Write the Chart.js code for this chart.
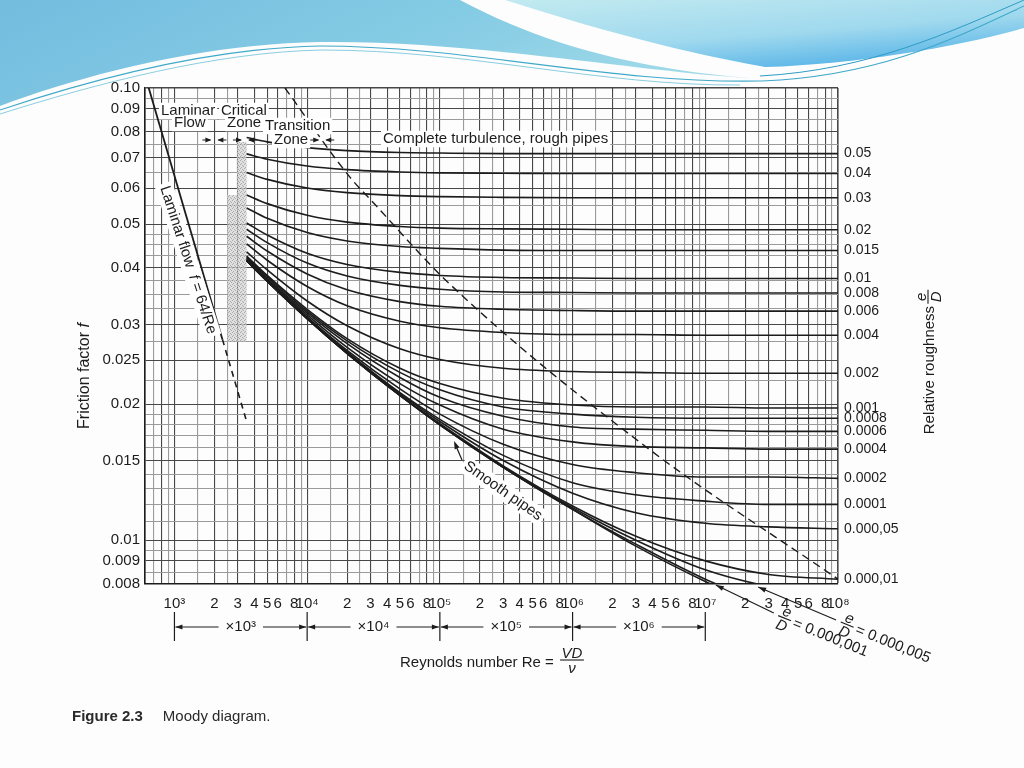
<!DOCTYPE html>
<html>
<head>
<meta charset="utf-8">
<title>Moody diagram</title>
<script src="https://cdn.jsdelivr.net/npm/chart.js@4.4.1/dist/chart.umd.min.js"></script>
<style>
  html, body { margin: 0; padding: 0; background: #fdfdfd; }
  #wrap { position: relative; width: 1024px; height: 768px; overflow: hidden; }
  #bg { position: absolute; left: 0; top: 0; }
  #moody { position: absolute; left: 0; top: 0; }
  #caption { position: absolute; left: 72px; top: 707px; font: 15px 'Liberation Sans', Arial, sans-serif; color: #2a2a2a; }
  #caption b { margin-right: 20px; }
</style>
</head>
<body>
<div id="wrap">
  <svg id="bg" width="1024" height="140" viewBox="0 0 1024 140">
    <defs>
      <linearGradient id="gL" x1="0" y1="0" x2="1" y2="0.3">
        <stop offset="0" stop-color="#74bcdf"/>
        <stop offset="0.6" stop-color="#84cbe4"/>
        <stop offset="1" stop-color="#9ed9e8"/>
      </linearGradient>
      <linearGradient id="gR" x1="0" y1="0" x2="0.6" y2="1">
        <stop offset="0" stop-color="#c2eaf0"/>
        <stop offset="0.6" stop-color="#a0d9ee"/>
        <stop offset="1" stop-color="#5cb6e8"/>
      </linearGradient>
    </defs>
    <path d="M0,0 H460 C535,40 625,68 750,78 C640,72 470,40 320,42 C200,44 80,76 0,106 Z" fill="url(#gL)"/>
    <path d="M505,0 H1024 V28 C960,46 860,64 765,67 C660,48 575,22 505,0 Z" fill="url(#gR)"/>
    <path d="M0,110 C90,80 210,48 320,46 C470,46 610,84 760,81 C880,77 960,36 1024,6" fill="none" stroke="#3fa9c9" stroke-width="1.1"/>
    <path d="M0,114 C95,84 215,52 322,50 C470,50 600,86 740,85" fill="none" stroke="#6cc0d8" stroke-width="0.8"/>
    <path d="M760,76 C870,70 950,32 1024,0" fill="none" stroke="#2e9cc3" stroke-width="1"/>
  </svg>
  <canvas id="moody" width="1024" height="768"></canvas>
  <div id="caption"><b>Figure 2.3</b>Moody diagram.</div>
</div>
<script>
const reynolds = [3500, 5000, 1e4, 2e4, 5e4, 1e5, 3e5, 1e6, 3e6, 1e7, 3e7, 1e8]

// friction factor f, one array per relative roughness e/D
const f_050 = [0.0777, 0.0760, 0.0738, 0.0727, 0.0720, 0.0718, 0.0716, 0.0716, 0.0716, 0.0716, 0.0716, 0.0716]
const f_040 = [0.0715, 0.0696, 0.0672, 0.0660, 0.0652, 0.0649, 0.0648, 0.0647, 0.0647, 0.0647, 0.0647, 0.0647]
const f_030 = [0.0650, 0.0628, 0.0601, 0.0587, 0.0578, 0.0575, 0.0573, 0.0572, 0.0572, 0.0572, 0.0572, 0.0572]
const f_020 = [0.0580, 0.0555, 0.0523, 0.0505, 0.0494, 0.0490, 0.0488, 0.0487, 0.0486, 0.0486, 0.0486, 0.0486]
const f_015 = [0.0543, 0.0515, 0.0479, 0.0459, 0.0446, 0.0442, 0.0438, 0.0437, 0.0437, 0.0437, 0.0437, 0.0437]
const f_010 = [0.0503, 0.0473, 0.0431, 0.0407, 0.0391, 0.0385, 0.0381, 0.0380, 0.0379, 0.0379, 0.0379, 0.0379]
const f_008 = [0.0487, 0.0455, 0.0410, 0.0384, 0.0366, 0.0359, 0.0354, 0.0353, 0.0352, 0.0352, 0.0352, 0.0352]
const f_006 = [0.0470, 0.0436, 0.0388, 0.0358, 0.0337, 0.0329, 0.0324, 0.0322, 0.0321, 0.0321, 0.0321, 0.0321]
const f_004 = [0.0452, 0.0416, 0.0364, 0.0330, 0.0305, 0.0295, 0.0288, 0.0285, 0.0285, 0.0284, 0.0284, 0.0284]
const f_002 = [0.0434, 0.0396, 0.0338, 0.0298, 0.0265, 0.0251, 0.0240, 0.0236, 0.0235, 0.0234, 0.0234, 0.0234]
const f_001 = [0.0425, 0.0385, 0.0324, 0.0279, 0.0240, 0.0222, 0.0206, 0.0199, 0.0197, 0.0197, 0.0196, 0.0196]
const f_0008 = [0.0423, 0.0383, 0.0321, 0.0276, 0.0235, 0.0215, 0.0197, 0.0190, 0.0187, 0.0186, 0.0186, 0.0186]
const f_0006 = [0.0421, 0.0380, 0.0318, 0.0272, 0.0229, 0.0207, 0.0188, 0.0178, 0.0176, 0.0175, 0.0174, 0.0174]
const f_0004 = [0.0419, 0.0378, 0.0315, 0.0267, 0.0222, 0.0199, 0.0176, 0.0165, 0.0161, 0.0160, 0.0159, 0.0159]
const f_0002 = [0.0417, 0.0376, 0.0312, 0.0263, 0.0216, 0.0190, 0.0163, 0.0147, 0.0141, 0.0138, 0.0138, 0.0137]
const f_0001 = [0.0416, 0.0375, 0.0310, 0.0261, 0.0212, 0.0185, 0.0154, 0.0134, 0.0126, 0.0122, 0.0120, 0.0120]
const f_00005 = [0.0416, 0.0375, 0.0310, 0.0260, 0.0211, 0.0183, 0.0150, 0.0127, 0.0115, 0.0109, 0.0107, 0.0106]
const f_00001 = [0.0415, 0.0374, 0.0309, 0.0259, 0.0209, 0.0181, 0.0146, 0.0119, 0.0102, 0.0090, 0.0084, 0.0082]
const f_000005 = [0.0415, 0.0374, 0.0309, 0.0259, 0.0209, 0.0180, 0.0145, 0.0118, 0.0100, 0.0086, 0.0079, 0.0075]
const f_000001 = [0.0415, 0.0374, 0.0309, 0.0259, 0.0209, 0.0180, 0.0145, 0.0117, 0.0098, 0.0082, 0.0072, 0.0064]
const fSmooth = [0.0415, 0.0374, 0.0309, 0.0259, 0.0209, 0.0180, 0.0145, 0.0117, 0.0097, 0.0081, 0.0070, 0.0059]

// right-hand roughness labels, in the same order as the curves
const roughnessLabels = ['0.05', '0.04', '0.03', '0.02', '0.015', '0.01', '0.008', '0.006', '0.004', '0.002',
  '0.001', '0.0008', '0.0006', '0.0004', '0.0002', '0.0001', '0.000,05', '0.000,01']

// laminar line f = 64/Re (solid part, then dashed part)
const laminarRe = [600, 2300]
const laminarF = [0.1067, 0.0278]
const laminarDashRe = [2300, 3500]
const laminarDashF = [0.0278, 0.0183]

// dashed boundary of complete turbulence
const boundaryRe = [6800, 21000, 31300, 114800, 3.66e6, 1e8]
const boundaryF = [0.100, 0.0635, 0.0559, 0.0372, 0.0160, 0.0082]

// shaded critical zone
const criticalRe = [[2950, 3500], [2500, 2950]]
const criticalF = [[0.0275, 0.076], [0.0275, 0.058]]

// axis ticks
const yTickValues = [0.008, 0.009, 0.01, 0.015, 0.02, 0.025, 0.03, 0.04, 0.05, 0.06, 0.07, 0.08, 0.09, 0.1]
const yTickLabels = ['0.008', '0.009', '0.01', '0.015', '0.02', '0.025', '0.03', '0.04', '0.05', '0.06', '0.07', '0.08', '0.09', '0.10']
const xGridMantissas = [1, 1.5, 2, 2.5, 3, 4, 5, 6, 7, 8, 9]
const xLabelMantissas = [2, 3, 4, 5, 6, 8]

const FONT = "'Liberation Sans', Arial, Helvetica, sans-serif"
const INK = '#1c1c1c'
const SUP = { 3: '³', 4: '⁴', 5: '⁵', 6: '⁶', 7: '⁷', 8: '⁸' }

const curves = [f_050, f_040, f_030, f_020, f_015, f_010, f_008, f_006, f_004, f_002, f_001, f_0008,
  f_0006, f_0004, f_0002, f_0001, f_00005, f_00001, f_000005, f_000001, fSmooth]
const rightTicks = roughnessLabels.map((label, i) => ({ value: curves[i][curves[i].length - 1], label }))

function mant (v) {
  const e = Math.floor(Math.log10(v) + 1e-9)
  return { m: Math.round(v / Math.pow(10, e) * 10) / 10, e }
}

// grid values
const xGrid = []
for (let e = 2; e <= 7; e++) {
  xGridMantissas.forEach(m => {
    const v = m * Math.pow(10, e)
    if (v >= 600 && v <= 1e8) xGrid.push(v)
  })
}
xGrid.push(1e8)

const yGrid = []
function addRange (a, b, step) {
  for (let v = a; v <= b + 1e-9; v += step) {
    const r = Math.round(v * 1e5) / 1e5
    if (!yGrid.includes(r)) yGrid.push(r)
  }
}
addRange(0.008, 0.01, 0.0005)
addRange(0.01, 0.02, 0.001)
addRange(0.02, 0.05, 0.0025)
addRange(0.05, 0.1, 0.005)

// datasets
const toPoints = (xs, ys) => xs.map((x, i) => ({ x, y: ys[i] }))
const datasets = curves.map(f => ({
  data: toPoints(reynolds, f),
  borderColor: INK,
  borderWidth: 1.6,
  pointRadius: 0,
  cubicInterpolationMode: 'monotone',
  fill: false
}))
datasets.push({ data: toPoints(laminarRe, laminarF), borderColor: INK, borderWidth: 1.8, pointRadius: 0 })
datasets.push({ data: toPoints(laminarDashRe, laminarDashF), borderColor: INK, borderWidth: 1.6, borderDash: [6, 5], pointRadius: 0 })
datasets.push({ data: toPoints(boundaryRe, boundaryF), borderColor: INK, borderWidth: 1.4, borderDash: [8, 5], pointRadius: 0, cubicInterpolationMode: 'monotone' })

// drawing helpers
function stipplePattern (ctx) {
  const c = document.createElement('canvas')
  c.width = 4; c.height = 4
  const g = c.getContext('2d')
  g.fillStyle = '#d6d6d6'; g.fillRect(0, 0, 4, 4)
  g.fillStyle = '#8f8f8f'
  g.fillRect(0, 0, 1, 1); g.fillRect(2, 1, 1, 1); g.fillRect(1, 3, 1, 1); g.fillRect(3, 2, 1, 1)
  return ctx.createPattern(c, 'repeat')
}

function knockText (ctx, s, x, y, size, align = 'left', style = '') {
  ctx.font = `${style} ${size}px ${FONT}`
  const w = ctx.measureText(s).width
  const x0 = align === 'center' ? x - w / 2 : align === 'right' ? x - w : x
  ctx.fillStyle = '#fff'
  ctx.fillRect(x0 - 2, y - size * 0.55, w + 4, size * 1.1)
  ctx.fillStyle = INK
  ctx.textAlign = 'left'
  ctx.textBaseline = 'middle'
  ctx.fillText(s, x0, y)
  return w
}

// rotated run of [text, italic] pieces centred on (x, y)
function runText (ctx, parts, x, y, deg, size, knock = true) {
  ctx.save()
  ctx.translate(x, y)
  ctx.rotate(deg * Math.PI / 180)
  const fontOf = it => `${it ? 'italic ' : ''}${size}px ${FONT}`
  let total = 0
  parts.forEach(([t, it]) => { ctx.font = fontOf(it); total += ctx.measureText(t).width })
  if (knock) {
    ctx.fillStyle = '#fff'
    ctx.fillRect(-total / 2 - 3, -size * 0.6, total + 6, size * 1.2)
  }
  ctx.fillStyle = INK
  ctx.textBaseline = 'middle'
  ctx.textAlign = 'left'
  let cx = -total / 2
  parts.forEach(([t, it]) => { ctx.font = fontOf(it); ctx.fillText(t, cx, 0); cx += ctx.measureText(t).width })
  ctx.restore()
}

function arrowHead (ctx, tx, ty, ang, len = 7, half = 2.6) {
  const c = Math.cos(ang), s = Math.sin(ang)
  ctx.beginPath()
  ctx.moveTo(tx, ty)
  ctx.lineTo(tx - len * c + half * s, ty - len * s - half * c)
  ctx.lineTo(tx - len * c - half * s, ty - len * s + half * c)
  ctx.closePath()
  ctx.fill()
}

function line (ctx, x0, y0, x1, y1, w = 1.2) {
  ctx.lineWidth = w
  ctx.beginPath(); ctx.moveTo(x0, y0); ctx.lineTo(x1, y1); ctx.stroke()
}

function fraction (ctx, top, bottom, cx, cy, size) {
  ctx.font = `italic ${size}px ${FONT}`
  const w = Math.max(ctx.measureText(top).width, ctx.measureText(bottom).width) + 3
  ctx.textAlign = 'center'
  ctx.textBaseline = 'alphabetic'
  ctx.fillText(top, cx, cy - 2)
  ctx.textBaseline = 'top'
  ctx.fillText(bottom, cx, cy + 1)
  line(ctx, cx - w / 2, cy, cx + w / 2, cy, 1.1)
  return w
}

function roughLeader (ctx, x0, y0, dx, dy, value) {
  const ang = Math.atan2(dy, dx)
  line(ctx, x0, y0, x0 + dx, y0 + dy, 1.2)
  arrowHead(ctx, x0, y0, ang + Math.PI, 8, 2.6)
  ctx.save()
  ctx.translate(x0 + dx + 12 * Math.cos(ang), y0 + dy + 12 * Math.sin(ang))
  ctx.rotate(22 * Math.PI / 180)
  const w = fraction(ctx, 'e', 'D', 0, 0, 15)
  ctx.font = `15px ${FONT}`
  ctx.textAlign = 'left'
  ctx.textBaseline = 'middle'
  ctx.fillText('= ' + value, w / 2 + 3, 1)
  ctx.restore()
}

const moodyDecor = {
  id: 'moodyDecor',
  beforeDatasetsDraw (chart) {
    const { ctx } = chart
    const xs = chart.scales.x, ys = chart.scales.y
    ctx.save()
    ctx.globalAlpha = 0.75
    ctx.fillStyle = stipplePattern(ctx)
    criticalRe.forEach((re, i) => {
      const x0 = xs.getPixelForValue(re[0]), x1 = xs.getPixelForValue(re[1])
      const y0 = ys.getPixelForValue(criticalF[i][1]), y1 = ys.getPixelForValue(criticalF[i][0])
      ctx.fillRect(x0, y0, x1 - x0, y1 - y0)
    })
    ctx.restore()
  },
  afterDraw (chart) {
    const { ctx, chartArea: a } = chart
    const xs = chart.scales.x
    const X = v => xs.getPixelForValue(v)
    ctx.save()
    ctx.fillStyle = INK
    ctx.strokeStyle = INK

    // zone labels along the top
    knockText(ctx, 'Laminar', 161, 111, 15)
    knockText(ctx, 'Critical', 221, 111, 15)
    knockText(ctx, 'Flow', 174, 123, 15)
    knockText(ctx, 'Zone', 227, 123, 15)
    knockText(ctx, 'Transition', 265, 126, 15)
    knockText(ctx, 'Zone', 274, 140, 15)
    knockText(ctx, 'Complete turbulence, rough pipes', 383, 139, 15)
    ctx.fillStyle = INK
    ;[2000, 3400, 13000].forEach(re => {
      const bx = X(re)
      line(ctx, bx - 12, 140, bx - 4, 140, 1)
      arrowHead(ctx, bx - 3, 140, 0, 6, 2.6)
      line(ctx, bx + 4, 140, bx + 12, 140, 1)
      arrowHead(ctx, bx + 3, 140, Math.PI, 6, 2.6)
    })

    // laminar flow label along the line
    runText(ctx, [['Laminar flow  ', false], ['f', true], [' = 64/Re', false]], 188, 260, 72, 15)

    // smooth pipes label and arrow
    runText(ctx, [['Smooth pipes', false]], 503, 491, 35, 15)
    line(ctx, 462, 460, 456, 446, 1.2)
    arrowHead(ctx, 454, 441, Math.atan2(-19, -8), 8, 2.6)

    // roughness labels for curves leaving the bottom
    roughLeader(ctx, X(1.2e7), a.bottom + 1, 58, 28, '0.000,001')
    roughLeader(ctx, X(2.5e7), a.bottom + 3, 78, 33, '0.000,005')

    // decade brackets under the axis
    ctx.fillStyle = INK
    for (let n = 3; n <= 7; n++) line(ctx, X(Math.pow(10, n)), 612, X(Math.pow(10, n)), 641, 1.2)
    for (let n = 3; n <= 6; n++) {
      const xa = X(Math.pow(10, n)), xb = X(Math.pow(10, n + 1))
      const s = '×10' + SUP[n]
      ctx.font = `15px ${FONT}`
      const w = ctx.measureText(s).width
      const mid = (xa + xb) / 2
      ctx.textAlign = 'center'
      ctx.textBaseline = 'middle'
      ctx.fillText(s, mid, 627)
      line(ctx, xa + 1, 627, mid - w / 2 - 7, 627, 1)
      line(ctx, mid + w / 2 + 7, 627, xb - 1, 627, 1)
      arrowHead(ctx, xa + 1, 627, Math.PI, 7, 2.6)
      arrowHead(ctx, xb - 1, 627, 0, 7, 2.6)
    }

    // x axis title
    ctx.font = `15px ${FONT}`
    ctx.textAlign = 'right'
    ctx.textBaseline = 'middle'
    ctx.fillText('Reynolds number Re = ', 558, 663)
    fraction(ctx, 'VD', 'ν', 572, 660, 15)

    // left axis title
    ctx.save()
    ctx.translate(85, 376)
    ctx.rotate(-Math.PI / 2)
    ctx.font = `16px ${FONT}`
    const t1 = 'Friction factor '
    const w1 = ctx.measureText(t1).width
    ctx.font = `italic 16px ${FONT}`
    const w2 = ctx.measureText('f').width
    ctx.textAlign = 'left'
    ctx.textBaseline = 'middle'
    ctx.font = `16px ${FONT}`
    ctx.fillText(t1, -(w1 + w2) / 2, 0)
    ctx.font = `italic 16px ${FONT}`
    ctx.fillText('f', -(w1 + w2) / 2 + w1, 0)
    ctx.restore()

    // right axis title
    ctx.save()
    ctx.translate(930, 362)
    ctx.rotate(-Math.PI / 2)
    ctx.font = `15px ${FONT}`
    const t2 = 'Relative roughness '
    const w3 = ctx.measureText(t2).width
    const start = -(w3 + 12) / 2
    ctx.textAlign = 'left'
    ctx.textBaseline = 'middle'
    ctx.fillText(t2, start, 0)
    fraction(ctx, 'e', 'D', start + w3 + 5, -2, 15)
    ctx.restore()

    ctx.restore()
  }
}

const darkGrid = '#474747'
const lightGrid = '#9a9a9a'

new Chart(document.getElementById('moody'), {
  type: 'line',
  data: { datasets },
  options: {
    responsive: false,
    animation: false,
    devicePixelRatio: 1,
    layout: { padding: { top: 88, left: 0, right: 0, bottom: 142 } },
    plugins: { legend: { display: false }, tooltip: { enabled: false } },
    scales: {
      x: {
        type: 'logarithmic',
        min: 600,
        max: 1e8,
        afterFit: s => { s.height = 42 },
        afterBuildTicks: s => { s.ticks = xGrid.map(v => ({ value: v })) },
        ticks: {
          autoSkip: false,
          maxRotation: 0,
          padding: 11,
          color: INK,
          font: { size: 15, family: FONT },
          callback: v => {
            const { m, e } = mant(v)
            if (m === 1 && e >= 3) return '10' + SUP[e]
            if (e >= 3 && e <= 7 && xLabelMantissas.includes(m)) return String(m)
            return ''
          }
        },
        grid: {
          drawTicks: false,
          color: c => {
            if (!c.tick) return darkGrid
            const m = mant(c.tick.value).m
            return [1, 2, 3, 4, 5, 6, 8].includes(m) ? darkGrid : lightGrid
          },
          lineWidth: c => (c.tick && c.tick.value >= 1e8 ? 1.6 : 1.1)
        },
        border: { color: INK, width: 1.6 }
      },
      y: {
        type: 'logarithmic',
        min: 0.008,
        max: 0.1,
        afterFit: s => { s.width = 145 },
        afterBuildTicks: s => { s.ticks = yGrid.map(v => ({ value: v })) },
        ticks: {
          autoSkip: false,
          padding: 5,
          color: INK,
          font: { size: 15, family: FONT },
          callback: v => {
            const i = yTickValues.findIndex(t => Math.abs(t - v) < 1e-7)
            return i >= 0 ? yTickLabels[i] : ''
          }
        },
        grid: {
          drawTicks: false,
          color: c => {
            if (!c.tick) return darkGrid
            return yTickValues.some(t => Math.abs(t - c.tick.value) < 1e-7) ? darkGrid : lightGrid
          },
          lineWidth: c => (c.tick && c.tick.value >= 0.1 ? 1.6 : 1.1)
        },
        border: { color: INK, width: 1.6 }
      },
      y2: {
        type: 'logarithmic',
        position: 'right',
        min: 0.008,
        max: 0.1,
        afterFit: s => { s.width = 186 },
        afterBuildTicks: s => {
          s.ticks = rightTicks.map(t => ({ value: t.value })).sort((p, q) => p.value - q.value)
        },
        ticks: {
          autoSkip: false,
          padding: 6,
          color: INK,
          font: { size: 14, family: FONT },
          callback: v => {
            const t = rightTicks.find(r => Math.abs(r.value - v) < 1e-9)
            return t ? t.label : ''
          }
        },
        grid: { display: false, drawTicks: false },
        border: { display: false }
      }
    }
  },
  plugins: [moodyDecor]
})
</script>
</body>
</html>
